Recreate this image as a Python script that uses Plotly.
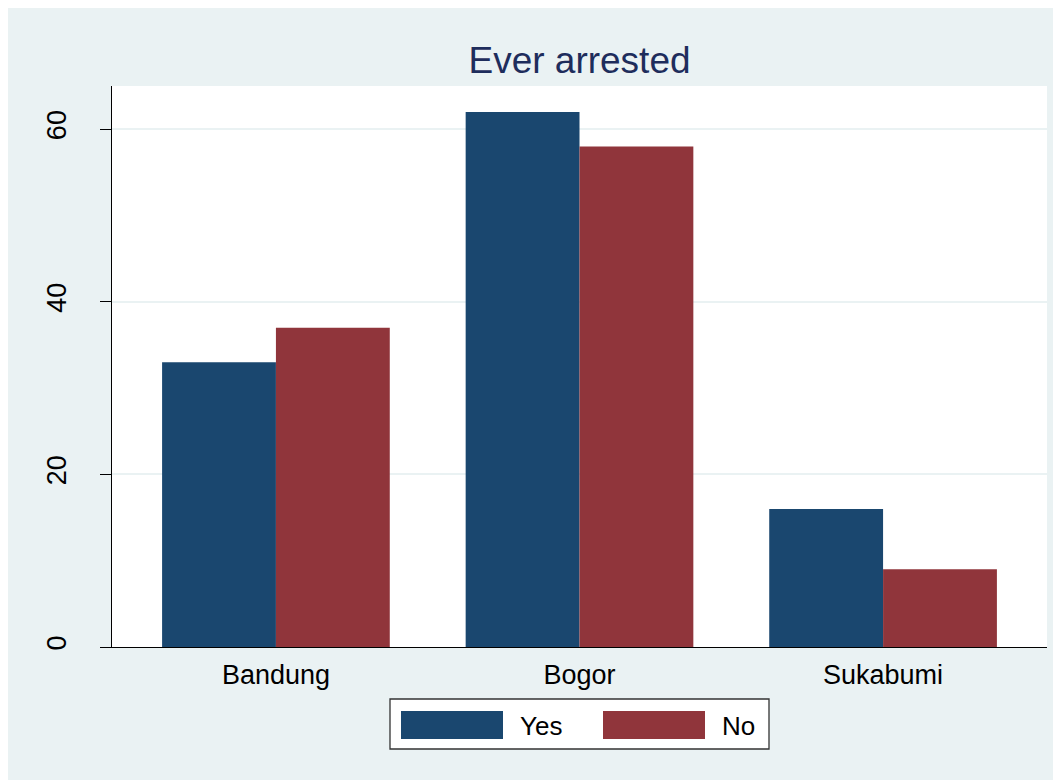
import plotly.graph_objects as go

# ---- data ----
categories = ["Bandung", "Bogor", "Sukabumi"]
series_names = ["Yes", "No"]
yes_values = [33, 62, 16]
no_values = [37, 58, 9]
y_tick_values = [0, 20, 40, 60]
title_text = "Ever arrested"

# ---- style ----
OFF = 8  # page body margin in the screenshot
W, H = 1061 - OFF, 780 - OFF
ML, MR, MT, MB = 112 - OFF, 14, 86 - OFF, 133
PW, PH = W - ML - MR, H - MT - MB
BG = "#EAF2F3"
COLORS = ["#1a476f", "#90353b"]
FONT = "Liberation Sans, Arial, sans-serif"


def px_x(px):
    return (px - OFF - ML) / PW


def px_y(py):
    return (H - MB - (py - OFF)) / PH


fig = go.Figure()
for name, vals, col in zip(series_names, [yes_values, no_values], COLORS):
    fig.add_trace(go.Bar(
        x=categories, y=vals, name=name,
        marker=dict(color=col, line=dict(width=0)),
        showlegend=False,
    ))

shapes = [
    # legend box
    dict(type="rect", xref="paper", yref="paper", x0=px_x(390), x1=px_x(769),
         y0=px_y(749), y1=px_y(699), fillcolor="white",
         line=dict(color="#333333", width=1.3)),
]
annotations = []
key_x = [401, 603]
for name, col, kx in zip(series_names, COLORS, key_x):
    shapes.append(dict(type="rect", xref="paper", yref="paper",
                       x0=px_x(kx), x1=px_x(kx + 102), y0=px_y(739), y1=px_y(711),
                       fillcolor=col, line=dict(width=0)))
    annotations.append(dict(text=name, xref="paper", yref="paper",
                            x=px_x(kx + 117), y=px_y(726), xanchor="left", yanchor="middle",
                            showarrow=False, font=dict(family=FONT, size=26, color="black")))

fig.update_layout(
    width=W, height=H,
    margin=dict(l=ML, r=MR, t=MT, b=MB, pad=0),
    paper_bgcolor=BG, plot_bgcolor="white",
    barmode="group", bargap=0.25, bargroupgap=0,
    title=dict(text=title_text, x=0.5, xref="paper", xanchor="center",
               y=1 - (60 - OFF) / H, yref="container", yanchor="middle",
               font=dict(family=FONT, size=37, color="#1e2d5c")),
    font=dict(family=FONT, size=27, color="black"),
    shapes=shapes, annotations=annotations,
    showlegend=False,
)
fig.update_xaxes(
    showline=True, linecolor="black", linewidth=1.3,
    showgrid=False, ticks="", ticklabelstandoff=3,
    tickfont=dict(family=FONT, size=27, color="black"),
    range=[-0.54, 2.54],
)
fig.update_yaxes(
    range=[0, 65], tickvals=y_tick_values,
    showline=True, linecolor="black", linewidth=1.3,
    showgrid=True, gridcolor=BG, gridwidth=2,
    zeroline=False,
    ticks="outside", ticklen=11, tickcolor="black", tickwidth=1.3,
    tickangle=-90, ticklabelstandoff=23,
    tickfont=dict(family=FONT, size=27, color="black"),
)

fig.write_html("out.html")
